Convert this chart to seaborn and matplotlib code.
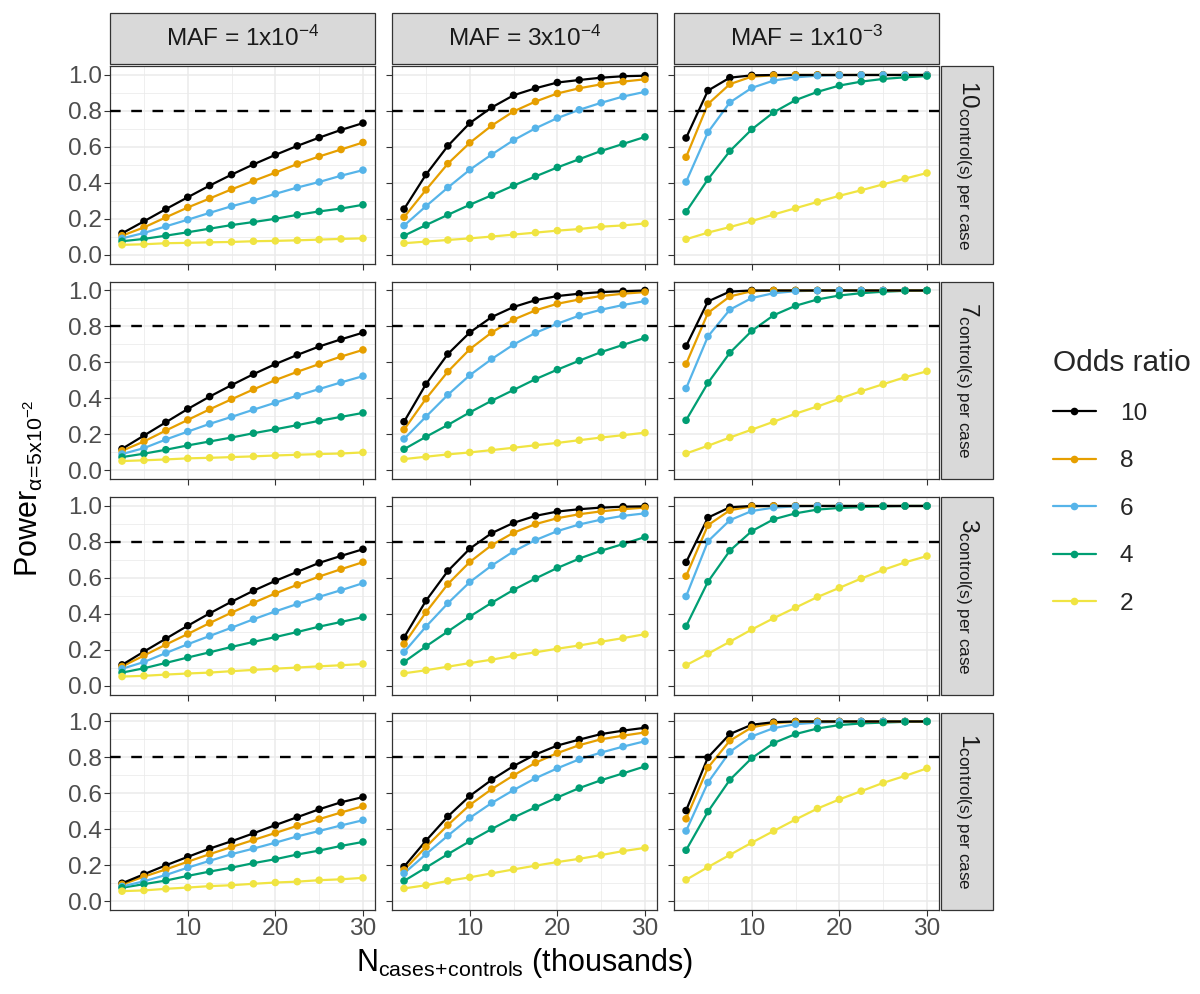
#!/usr/bin/env python
# coding: utf-8
"""
Power curves faceted by control:case ratio (rows) and MAF (columns).
"""
import numpy as np
import pandas as pd
import seaborn as sns
import matplotlib
matplotlib.use("Agg")
from matplotlib import pyplot as plt
from matplotlib.patches import Rectangle
from matplotlib.lines import Line2D

N_THOUSANDS = [2.5, 5, 7.5, 10, 12.5, 15, 17.5, 20, 22.5, 25, 27.5, 30]
ODDS_RATIOS = [10, 8, 6, 4, 2]
CONTROLS_PER_CASE = [10, 7, 3, 1]
MAF_LEVELS = ["1e-4", "3e-4", "1e-3"]
MAF_LABELS = ["MAF = 1x$10^{-4}$", "MAF = 3x$10^{-4}$", "MAF = 1x$10^{-3}$"]
COLORS = ["#000000", "#E69F00", "#56B4E9", "#009E73", "#F0E442"]

# 10 controls per case
ctl10_maf1e4 = {
    10: [0.118, 0.185, 0.253, 0.319, 0.384, 0.445, 0.502, 0.555, 0.605, 0.651, 0.694, 0.732],
    8: [0.105, 0.151, 0.207, 0.262, 0.312, 0.363, 0.410, 0.456, 0.504, 0.546, 0.585, 0.624],
    6: [0.090, 0.120, 0.157, 0.194, 0.232, 0.269, 0.301, 0.338, 0.373, 0.404, 0.439, 0.470],
    4: [0.074, 0.087, 0.105, 0.124, 0.144, 0.164, 0.181, 0.199, 0.221, 0.240, 0.256, 0.277],
    2: [0.054, 0.057, 0.063, 0.065, 0.068, 0.070, 0.074, 0.076, 0.079, 0.083, 0.087, 0.090],
}
ctl10_maf3e4 = {
    10: [0.253, 0.445, 0.605, 0.732, 0.819, 0.887, 0.926, 0.958, 0.972, 0.985, 0.993, 0.996],
    8: [0.208, 0.360, 0.506, 0.622, 0.718, 0.797, 0.852, 0.897, 0.926, 0.948, 0.963, 0.976],
    6: [0.161, 0.269, 0.373, 0.472, 0.557, 0.637, 0.703, 0.760, 0.806, 0.845, 0.880, 0.906],
    4: [0.105, 0.164, 0.221, 0.277, 0.330, 0.384, 0.435, 0.485, 0.531, 0.577, 0.616, 0.655],
    2: [0.063, 0.072, 0.081, 0.090, 0.100, 0.111, 0.122, 0.133, 0.142, 0.155, 0.162, 0.173],
}
ctl10_maf1e3 = {
    10: [0.649, 0.913, 0.985, 0.998, 1.0, 1.0, 1.0, 1.0, 1.0, 1.0, 1.0, 1.0],
    8: [0.542, 0.838, 0.949, 0.991, 0.998, 1.0, 1.0, 1.0, 1.0, 1.0, 1.0, 1.0],
    6: [0.404, 0.681, 0.847, 0.928, 0.969, 0.987, 0.996, 0.999, 1.0, 1.0, 1.0, 1.0],
    4: [0.238, 0.419, 0.576, 0.697, 0.792, 0.860, 0.906, 0.941, 0.963, 0.978, 0.987, 0.994],
    2: [0.085, 0.122, 0.153, 0.186, 0.223, 0.258, 0.293, 0.327, 0.358, 0.391, 0.423, 0.454],
}

# 7 controls per case
ctl7_maf1e4 = {
    10: [0.118, 0.192, 0.266, 0.340, 0.409, 0.473, 0.534, 0.590, 0.641, 0.688, 0.728, 0.765],
    8: [0.107, 0.159, 0.220, 0.279, 0.338, 0.394, 0.449, 0.501, 0.547, 0.590, 0.632, 0.669],
    6: [0.089, 0.122, 0.170, 0.214, 0.257, 0.296, 0.336, 0.375, 0.414, 0.451, 0.488, 0.523],
    4: [0.072, 0.091, 0.113, 0.137, 0.159, 0.181, 0.205, 0.227, 0.250, 0.274, 0.296, 0.318],
    2: [0.050, 0.054, 0.059, 0.065, 0.068, 0.072, 0.076, 0.081, 0.085, 0.089, 0.092, 0.098],
}
ctl7_maf3e4 = {
    10: [0.269, 0.478, 0.646, 0.766, 0.852, 0.908, 0.946, 0.969, 0.982, 0.991, 0.996, 1.0],
    8: [0.225, 0.397, 0.548, 0.673, 0.766, 0.838, 0.889, 0.926, 0.950, 0.969, 0.982, 0.991],
    6: [0.173, 0.297, 0.419, 0.528, 0.618, 0.699, 0.764, 0.815, 0.860, 0.893, 0.919, 0.941],
    4: [0.116, 0.185, 0.251, 0.321, 0.386, 0.446, 0.506, 0.559, 0.609, 0.657, 0.697, 0.736],
    2: [0.061, 0.074, 0.087, 0.098, 0.111, 0.124, 0.138, 0.151, 0.166, 0.181, 0.194, 0.208],
}
ctl7_maf1e3 = {
    10: [0.690, 0.939, 0.994, 1.0, 1.0, 1.0, 1.0, 1.0, 1.0, 1.0, 1.0, 1.0],
    8: [0.590, 0.875, 0.967, 0.996, 1.0, 1.0, 1.0, 1.0, 1.0, 1.0, 1.0, 1.0],
    6: [0.454, 0.744, 0.893, 0.958, 0.985, 0.996, 0.999, 1.0, 1.0, 1.0, 1.0, 1.0],
    4: [0.277, 0.485, 0.653, 0.775, 0.862, 0.915, 0.950, 0.972, 0.985, 0.993, 0.998, 1.0],
    2: [0.092, 0.135, 0.181, 0.225, 0.269, 0.314, 0.354, 0.397, 0.439, 0.478, 0.517, 0.550],
}

# 3 controls per case
ctl3_maf1e4 = {
    10: [0.115, 0.189, 0.261, 0.333, 0.402, 0.467, 0.528, 0.583, 0.633, 0.683, 0.722, 0.759],
    8: [0.106, 0.167, 0.228, 0.287, 0.348, 0.406, 0.461, 0.513, 0.561, 0.607, 0.648, 0.687],
    6: [0.093, 0.131, 0.181, 0.230, 0.276, 0.322, 0.369, 0.413, 0.454, 0.494, 0.531, 0.570],
    4: [0.072, 0.096, 0.126, 0.156, 0.185, 0.215, 0.243, 0.270, 0.298, 0.328, 0.354, 0.381],
    2: [0.050, 0.054, 0.061, 0.067, 0.072, 0.080, 0.087, 0.094, 0.100, 0.107, 0.113, 0.120],
}
ctl3_maf3e4 = {
    10: [0.268, 0.472, 0.638, 0.762, 0.849, 0.906, 0.945, 0.969, 0.982, 0.991, 0.996, 0.998],
    8: [0.231, 0.408, 0.565, 0.688, 0.782, 0.851, 0.899, 0.932, 0.954, 0.970, 0.982, 0.991],
    6: [0.186, 0.328, 0.458, 0.576, 0.668, 0.747, 0.810, 0.860, 0.897, 0.924, 0.945, 0.959],
    4: [0.131, 0.218, 0.301, 0.384, 0.461, 0.533, 0.596, 0.655, 0.707, 0.751, 0.788, 0.827],
    2: [0.068, 0.085, 0.105, 0.125, 0.144, 0.166, 0.185, 0.205, 0.223, 0.244, 0.264, 0.286],
}
ctl3_maf1e3 = {
    10: [0.686, 0.935, 0.993, 1.0, 1.0, 1.0, 1.0, 1.0, 1.0, 1.0, 1.0, 1.0],
    8: [0.609, 0.893, 0.976, 0.998, 1.0, 1.0, 1.0, 1.0, 1.0, 1.0, 1.0, 1.0],
    6: [0.496, 0.803, 0.921, 0.972, 0.991, 0.998, 1.0, 1.0, 1.0, 1.0, 1.0, 1.0],
    4: [0.330, 0.578, 0.751, 0.860, 0.926, 0.959, 0.980, 0.989, 0.994, 0.998, 1.0, 1.0],
    2: [0.113, 0.177, 0.244, 0.312, 0.375, 0.434, 0.493, 0.544, 0.596, 0.644, 0.686, 0.721],
}

# 1 control per case
ctl1_maf1e4 = {
    10: [0.099, 0.149, 0.199, 0.246, 0.292, 0.333, 0.377, 0.423, 0.467, 0.511, 0.550, 0.579],
    8: [0.092, 0.136, 0.176, 0.219, 0.261, 0.301, 0.340, 0.379, 0.419, 0.456, 0.493, 0.528],
    6: [0.081, 0.110, 0.145, 0.186, 0.224, 0.261, 0.292, 0.325, 0.360, 0.390, 0.421, 0.450],
    4: [0.074, 0.094, 0.114, 0.140, 0.164, 0.186, 0.211, 0.233, 0.259, 0.281, 0.307, 0.329],
    2: [0.055, 0.059, 0.068, 0.075, 0.083, 0.088, 0.096, 0.103, 0.108, 0.116, 0.121, 0.129],
}
ctl1_maf3e4 = {
    10: [0.191, 0.336, 0.471, 0.585, 0.675, 0.752, 0.816, 0.866, 0.899, 0.930, 0.949, 0.965],
    8: [0.173, 0.301, 0.423, 0.535, 0.623, 0.700, 0.770, 0.824, 0.868, 0.901, 0.921, 0.939],
    6: [0.154, 0.261, 0.364, 0.463, 0.546, 0.618, 0.684, 0.739, 0.789, 0.827, 0.860, 0.890],
    4: [0.112, 0.186, 0.261, 0.333, 0.401, 0.465, 0.522, 0.577, 0.629, 0.673, 0.711, 0.750],
    2: [0.070, 0.088, 0.112, 0.132, 0.154, 0.176, 0.197, 0.217, 0.235, 0.256, 0.278, 0.296],
}
ctl1_maf1e3 = {
    10: [0.504, 0.800, 0.930, 0.982, 0.996, 1.0, 1.0, 1.0, 1.0, 1.0, 1.0, 1.0],
    8: [0.458, 0.743, 0.893, 0.967, 0.991, 0.998, 1.0, 1.0, 1.0, 1.0, 1.0, 1.0],
    6: [0.390, 0.660, 0.831, 0.917, 0.963, 0.985, 0.994, 0.998, 1.0, 1.0, 1.0, 1.0],
    4: [0.283, 0.498, 0.675, 0.796, 0.880, 0.930, 0.961, 0.980, 0.989, 0.994, 0.998, 1.0],
    2: [0.118, 0.189, 0.257, 0.325, 0.390, 0.454, 0.515, 0.566, 0.612, 0.658, 0.697, 0.739],
}

PANELS = {
    (10, "1e-4"): ctl10_maf1e4, (10, "3e-4"): ctl10_maf3e4, (10, "1e-3"): ctl10_maf1e3,
    (7, "1e-4"): ctl7_maf1e4, (7, "3e-4"): ctl7_maf3e4, (7, "1e-3"): ctl7_maf1e3,
    (3, "1e-4"): ctl3_maf1e4, (3, "3e-4"): ctl3_maf3e4, (3, "1e-3"): ctl3_maf1e3,
    (1, "1e-4"): ctl1_maf1e4, (1, "3e-4"): ctl1_maf3e4, (1, "1e-3"): ctl1_maf1e3,
}

W, H = 1200, 994
COL_LEFT = [110, 392, 674]
ROW_TOP = [66, 281.5, 497, 712.5]
PANEL_W, PANEL_H = 265, 197.5
BASE = 22


def long_frame():
    rows = []
    for (ctl, maf), curves in PANELS.items():
        for odds, vals in curves.items():
            for n, p in zip(N_THOUSANDS, vals):
                rows.append(dict(ctl=ctl, maf=maf, odds=odds, n=n, power=p))
    return pd.DataFrame(rows)


def fx(x):
    return x / W


def fy(y):
    return 1 - y / H


def main():
    sns.set_theme(style="ticks")
    plt.rcParams['font.family'] = ['Liberation Sans', 'DejaVu Sans']
    plt.rcParams['mathtext.fontset'] = 'custom'
    plt.rcParams['mathtext.rm'] = 'Liberation Sans'
    plt.rcParams['mathtext.it'] = 'Liberation Sans:italic'
    plt.rcParams['mathtext.bf'] = 'Liberation Sans:bold'

    df = long_frame()
    draw_order = ODDS_RATIOS[::-1]
    palette = dict(zip(ODDS_RATIOS, COLORS))

    g = sns.relplot(data=df, x="n", y="power", hue="odds", hue_order=draw_order,
                    palette=palette, row="ctl", row_order=CONTROLS_PER_CASE,
                    col="maf", col_order=MAF_LEVELS, kind="line", linewidth=1.6,
                    legend=False, errorbar=None, height=2, aspect=1.3,
                    facet_kws=dict(sharex=True, sharey=True))
    g.map_dataframe(sns.scatterplot, x="n", y="power", hue="odds", hue_order=draw_order,
                    palette=palette, s=30, linewidth=0, legend=False, zorder=4)
    fig = g.figure
    fig.set_size_inches(W / 100, H / 100)
    fig.set_dpi(100)
    g.set_titles("")
    g.set_axis_labels("", "")

    for i in range(4):
        for j in range(3):
            ax = g.axes[i, j]
            ax.set_title("")
            ax.set_position([fx(COL_LEFT[j]), fy(ROW_TOP[i] + PANEL_H), PANEL_W / W, PANEL_H / H])
            ax.set_xlim(1.125, 31.375)
            ax.set_ylim(-0.05, 1.05)
            ax.set_xticks([10, 20, 30])
            ax.set_xticks([5, 15, 25], minor=True)
            ax.set_yticks([0, 0.2, 0.4, 0.6, 0.8, 1.0])
            ax.set_yticks([0.1, 0.3, 0.5, 0.7, 0.9], minor=True)
            ax.grid(which="major", color="#EBEBEB", linewidth=1.1, zorder=0)
            ax.grid(which="minor", color="#EBEBEB", linewidth=0.55, zorder=0)
            ax.set_axisbelow(True)
            ax.axhline(0.8, color="black", linestyle=(0, (4.5, 4.5)), linewidth=1.7, zorder=5)
            for side in ax.spines.values():
                side.set_visible(True)
                side.set_color("#333333")
                side.set_linewidth(0.9)
            ax.tick_params(which="major", direction="out", length=4, width=0.8,
                           color="#333333", labelcolor="#4D4D4D", labelsize=BASE * 0.8, pad=2)
            ax.tick_params(which="minor", length=0)
            ax.tick_params(labelleft=(j == 0), labelbottom=(i == 3))
            ax.yaxis.set_major_formatter(matplotlib.ticker.FormatStrFormatter("%.1f"))

    # column strips
    for j, label in enumerate(MAF_LABELS):
        x0 = COL_LEFT[j]
        fig.add_artist(Rectangle((fx(x0), fy(64)), PANEL_W / W, 51 / H, transform=fig.transFigure,
                                 facecolor="#D9D9D9", edgecolor="#333333", linewidth=0.9))
        fig.text(fx(x0 + PANEL_W / 2), fy(38.5), label, ha="center", va="center",
                 fontsize=BASE * 0.8, color="#1A1A1A")

    # row strips
    for i, ctl in enumerate(CONTROLS_PER_CASE):
        top = ROW_TOP[i]
        fig.add_artist(Rectangle((fx(941), fy(top + PANEL_H)), 52 / W, PANEL_H / H,
                                 transform=fig.transFigure, facecolor="#D9D9D9",
                                 edgecolor="#333333", linewidth=0.9))
        fig.text(fx(967), fy(top + PANEL_H / 2), r"$%d_{\mathrm{control(s)\ per\ case}}$" % ctl,
                 ha="center", va="center", rotation=270, fontsize=BASE * 0.8, color="#1A1A1A")

    fig.text(fx(524.5), fy(963), r"$\mathrm{N}_{\mathrm{cases\!+\!controls}}$ (thousands)",
             ha="center", va="center", fontsize=BASE, color="black")
    fig.text(fx(29), fy(488), r"$\mathrm{Power}_{\mathrm{α\!=\!5x10}^{-2}}$",
             ha="center", va="center", rotation=90, fontsize=BASE, color="black")

    handles = [Line2D([], [], color=c, linewidth=1.6, marker="o", markersize=5.5,
                      markeredgewidth=0) for c in COLORS]
    fig.legend(handles, [str(o) for o in ODDS_RATIOS], loc="center left",
               bbox_to_anchor=(fx(1043), fy(482)), frameon=False, title="Odds ratio",
               fontsize=BASE * 0.8, title_fontsize=BASE - 0.5, handlelength=1.75,
               handletextpad=1.0, labelspacing=1.04, alignment="left", borderaxespad=0)

    fig.savefig("out.png", dpi=100)


if __name__ == '__main__':
    main()
